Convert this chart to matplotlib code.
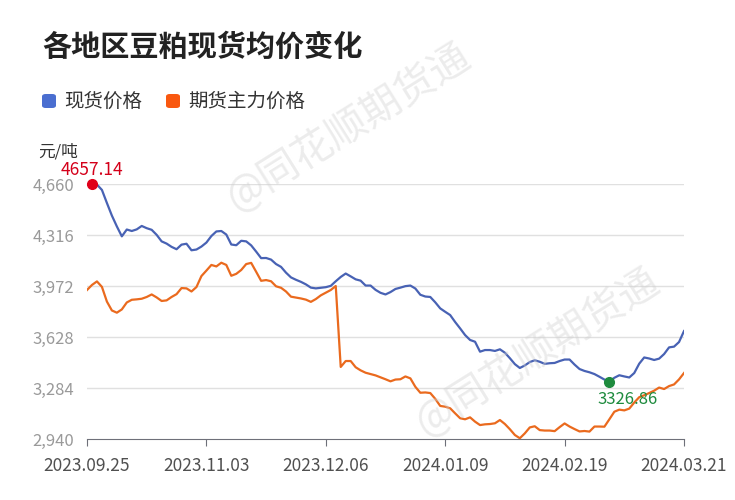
import numpy as np
import matplotlib
matplotlib.use("Agg")
import matplotlib.pyplot as plt
from matplotlib.patches import FancyBboxPatch

plt.rcParams['font.family'] = ['Noto Sans CJK SC', 'DejaVu Sans']

# 现货价格 (元/吨)
spot = [4655, 4657.14, 4656, 4620, 4532, 4447, 4374, 4307, 4353, 4343,
        4354, 4377, 4362, 4351, 4317, 4273, 4258, 4236, 4220, 4251,
        4257, 4213, 4218, 4238, 4265, 4309, 4340, 4343, 4319, 4252,
        4247, 4277, 4273, 4246, 4204, 4160, 4161, 4150, 4120, 4101,
        4062, 4030, 4014, 4000, 3983, 3961, 3956, 3960, 3964, 3973,
        4004, 4033, 4056, 4037, 4017, 4008, 3975, 3975, 3946, 3926,
        3915, 3931, 3952, 3961, 3971, 3975, 3955, 3913, 3901, 3898,
        3862, 3821, 3798, 3776, 3729, 3686, 3641, 3608, 3596, 3529,
        3540, 3540, 3534, 3545, 3522, 3485, 3445, 3419, 3436, 3459,
        3471, 3461, 3447, 3451, 3453, 3466, 3476, 3476, 3442, 3412,
        3399, 3390, 3378, 3360, 3341, 3326.86, 3353, 3370, 3362, 3355,
        3385, 3448, 3490, 3483, 3473, 3482, 3513, 3558, 3563, 3594,
        3668]

# 期货主力价格 (元/吨)
futures = [3945, 3979, 4003, 3966, 3867, 3807, 3792, 3814, 3861, 3879,
           3882, 3886, 3898, 3915, 3895, 3871, 3875, 3898, 3917, 3958,
           3956, 3935, 3965, 4039, 4076, 4114, 4104, 4129, 4114, 4041,
           4054, 4080, 4120, 4128, 4068, 4007, 4012, 4004, 3970, 3960,
           3935, 3900, 3894, 3888, 3880, 3865, 3884, 3909, 3927, 3945,
           3972, 3426, 3466, 3466, 3424, 3403, 3387, 3378, 3369, 3356,
           3343, 3329, 3341, 3343, 3362, 3349, 3292, 3252, 3254, 3250,
           3211, 3163, 3158, 3147, 3113, 3080, 3073, 3086, 3057, 3034,
           3039, 3041, 3046, 3068, 3041, 3006, 2967, 2945, 2978, 3018,
           3026, 3000, 2997, 2997, 2993, 3020, 3045, 3024, 3007, 2991,
           2994, 2990, 3024, 3024, 3023, 3073, 3124, 3138, 3133, 3145,
           3186, 3222, 3235, 3250, 3266, 3287, 3277, 3297, 3308, 3342,
           3385]

date_labels = ['2023.09.25', '2023.11.03', '2023.12.06',
               '2024.01.09', '2024.02.19', '2024.03.21']
y_ticks = [2940, 3284, 3628, 3972, 4316, 4660]

blue = '#4862b4'
orange = '#ea6a1e'

fig = plt.figure(figsize=(7.35, 5), dpi=100)
fig.patch.set_facecolor('white')

# 水印
fig.text(0.474, 0.745, '@同花顺期货通', fontsize=29, color='#d0d0d0', alpha=0.4,
         rotation=32, ha='center', va='center')
fig.text(0.732, 0.295, '@同花顺期货通', fontsize=29, color='#d0d0d0', alpha=0.4,
         rotation=32, ha='center', va='center')

ax = fig.add_axes([87 / 735, 61 / 500, 597 / 735, 255 / 500])
ax.patch.set_alpha(0)

x = np.arange(len(spot))
ax.plot(x, spot, color=blue, lw=1.6, zorder=3)
ax.plot(x, futures, color=orange, lw=1.6, zorder=3)

ax.set_xlim(0, len(spot) - 1)
ax.set_ylim(y_ticks[0], y_ticks[-1])
ax.set_yticks(y_ticks)
ax.set_yticklabels([f'{v:,}' for v in y_ticks])
step = (len(spot) - 1) // (len(date_labels) - 1)
ax.set_xticks(np.arange(0, len(spot), step))
ax.set_xticklabels(date_labels)

for v in y_ticks[1:]:
    ax.axhline(v, color='#e0e0e0', lw=1, zorder=1)
for s in ['top', 'right', 'left']:
    ax.spines[s].set_visible(False)
ax.spines['bottom'].set_color('#6e7079')
ax.tick_params(axis='y', length=0, pad=9, labelsize=12, labelcolor='#9a9a9a')
ax.tick_params(axis='x', length=5, color='#6e7079', pad=8, labelsize=12.5,
               labelcolor='#505050')

# 最高 / 最低
i_max = int(np.argmax(spot))
i_min = int(np.argmin(spot))
ax.plot(i_max, spot[i_max], 'o', color='#e0001a', ms=7, zorder=4, clip_on=False)
ax.annotate(f'{spot[i_max]:.2f}', (i_max, spot[i_max]), xytext=(0, 4),
            textcoords='offset points', ha='center', va='bottom',
            color='#d4001a', fontsize=12.5, annotation_clip=False)
ax.plot(i_min, spot[i_min], 'o', color='#1e8b3e', ms=7, zorder=4)
ax.annotate(f'{spot[i_min]:.2f}', (i_min, spot[i_min]), xytext=(13, -7),
            textcoords='offset points', ha='center', va='top',
            color='#1e8b3e', fontsize=12)

fig.text(38 / 735, 1 - 152 / 500, '元/吨', fontsize=12, color='#333333',
         ha='left', va='center')

fig.text(42 / 735, 1 - 47 / 500, '各地区豆粕现货均价变化', fontsize=21,
         fontweight='bold', color='#222222', ha='left', va='center')

# 图例
for x0, col, label in [(42, '#4a6ed0', '现货价格'), (166, '#f9580f', '期货主力价格')]:
    box = FancyBboxPatch((x0 / 735, 1 - 108 / 500), 14 / 735, 14 / 500,
                         boxstyle='round,pad=0,rounding_size=0.005',
                         transform=fig.transFigure, facecolor=col, edgecolor='none')
    fig.patches.append(box)
    fig.text((x0 + 22) / 735, 1 - 101 / 500, label, fontsize=14, color='#333333',
             ha='left', va='center')

fig.savefig('out.png', dpi=100)
